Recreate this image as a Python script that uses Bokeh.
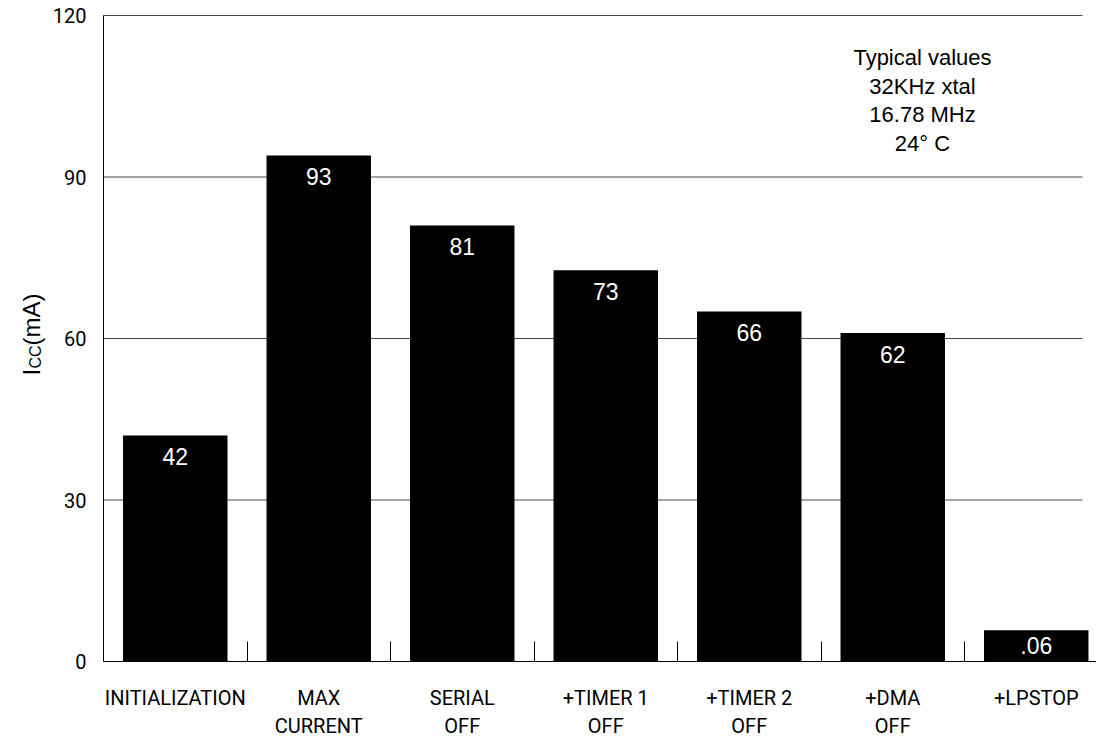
import math
from bokeh.plotting import figure
from bokeh.models import Range1d, FixedTicker, ColumnDataSource, LabelSet, Label
from bokeh.core.properties import value
from bokeh.embed import file_html
from bokeh.resources import INLINE

# ---- data ----
categories = ["INITIALIZATION", "MAX\nCURRENT", "SERIAL\nOFF", "+TIMER 1\nOFF",
              "+TIMER 2\nOFF", "+DMA\nOFF", "+LPSTOP"]
bar_heights = [42, 94, 81, 72.7, 65, 61, 5.8]
value_labels = ["42", "93", "81", "73", "66", "62", ".06"]
y_ticks = [0, 30, 60, 90, 120]
note_lines = ["Typical values", "32KHz xtal", "16.78 MHz", "24\u00b0 C"]

# ---- layout ----
W, H = 1096, 740
TOP_PX, ZERO_PX = 15, 661   # image px of y=120 and y=0
AXIS_X = 103                # image px of the y-axis line
STEP = 143.5                # px per category
pxy = (ZERO_PX - TOP_PX) / (y_ticks[-1] - y_ticks[0])
Y1 = y_ticks[-1] + TOP_PX / pxy
Y0 = y_ticks[0] - (H - ZERO_PX) / pxy
X0 = -0.5 - AXIS_X / STEP
X1 = X0 + W / STEP

def dx(img_x):  # image px -> data x
    return -0.5 + (img_x - AXIS_X) / STEP

def dy(img_y):  # image px -> data y
    return y_ticks[-1] - (img_y - TOP_PX) / pxy

x = list(range(len(categories)))

p = figure(width=W, height=H, output_backend="svg", toolbar_location=None,
           x_range=Range1d(X0, X1), y_range=Range1d(Y0, Y1),
           min_border_left=0, min_border_right=0, min_border_top=0,
           min_border_bottom=0)
p.outline_line_color = None
p.xgrid.visible = False
p.ygrid.visible = False
p.background_fill_color = "white"
p.border_fill_color = "white"

# gridlines (end short of the right edge)
gy = y_ticks[1:]
p.segment(x0=[-0.5] * len(gy), y0=gy, x1=[dx(1082)] * len(gy), y1=gy,
          line_color="#4a4a4a", line_width=1)

# bars
p.vbar(x=x, top=bar_heights, width=0.728, fill_color="black", line_color=None)

# value labels
lab_y = [h if h > 10 else h / 2 for h in bar_heights]
lab_off = [-21 if h > 10 else 0 for h in bar_heights]
src = ColumnDataSource(dict(x=x, y=lab_y, t=value_labels, off=lab_off))
p.add_layout(LabelSet(x="x", y="y", text="t", source=src, y_offset="off",
                      text_align="center", text_baseline="middle",
                      text_color="white", text_font=value("Liberation Sans"),
                      text_font_size="23px"))

# x axis (fixed at y=0)
xa = p.xaxis[0]
xa.fixed_location = 0
xa.ticker = FixedTicker(ticks=x, minor_ticks=[i + 0.5 for i in x[:-1]])
xa.major_label_overrides = {i: c for i, c in enumerate(categories)}
xa.bounds = (-0.5, X1)
xa.major_tick_in = 0
xa.major_tick_out = 0
xa.minor_tick_in = 20
xa.minor_tick_out = 0
xa.minor_tick_line_color = "black"
xa.axis_line_color = "black"
xa.major_label_text_font = "Roboto"
xa.major_label_text_font_size = "20px"
xa.major_label_text_line_height = 1.2
xa.major_label_text_color = "black"
xa.major_label_standoff = 24

# y axis (fixed at the left edge of the first category slot)
ya = p.yaxis[0]
ya.fixed_location = -0.5
ya.bounds = (y_ticks[0], y_ticks[-1])
ya.ticker = FixedTicker(ticks=y_ticks)
ya.major_tick_in = 0
ya.major_tick_out = 0
ya.minor_tick_in = 0
ya.minor_tick_out = 0
ya.axis_line_color = "black"
ya.major_label_text_font = "Roboto"
ya.major_label_text_font_size = "20px"
ya.major_label_text_color = "black"
ya.major_label_standoff = 17

# y axis title: I_CC(mA), rotated
common = dict(angle=math.pi / 2, text_align="left", text_baseline="alphabetic",
              text_color="black", text_font="Liberation Sans")
p.add_layout(Label(x=dx(31), y=dy(375), text="I", text_font_size="24px", **common))
p.add_layout(Label(x=dx(35), y=dy(368), text="CC", text_font_size="16px", **common))
p.add_layout(Label(x=dx(31), y=dy(345), text="(mA)", text_font_size="24px", **common))

# note block
note_y = [57, 85.5, 114, 142.5]
for t, yy in zip(note_lines, note_y):
    p.add_layout(Label(x=dx(922), y=dy(yy), text=t, text_align="center",
                       text_baseline="middle", text_color="black",
                       text_font="Liberation Sans", text_font_size="22px"))

open("out.html", "w").write(file_html(p, INLINE))
